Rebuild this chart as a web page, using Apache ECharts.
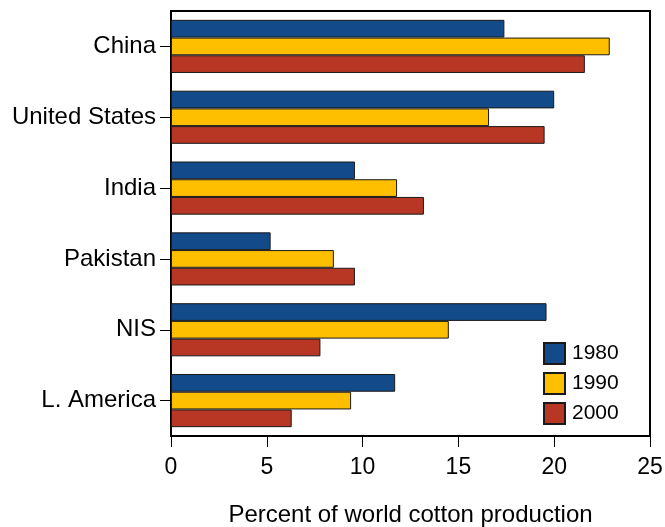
<!DOCTYPE html>
<html>
<head>
<meta charset="utf-8">
<script src="https://cdn.jsdelivr.net/npm/echarts@6/dist/echarts.min.js"></script>
<style>
  html, body { margin: 0; padding: 0; background: #fff; }
  #chart { width: 665px; height: 527px; }
</style>
</head>
<body>
<div id="chart"></div>
<script>
var regions = ['China', 'United States', 'India', 'Pakistan', 'NIS', 'L. America'];
var years = ['1980', '1990', '2000'];
var v1980 = [17.4, 20.0, 9.6, 5.2, 19.6, 11.7];
var v1990 = [22.9, 16.6, 11.8, 8.5, 14.5, 9.4];
var v2000 = [21.6, 19.5, 13.2, 9.6, 7.8, 6.3];
var xTicks = [0, 5, 10, 15, 20, 25];
var colors = ['#134b8a', '#fdbf00', '#b73724'];

var myChart = echarts.init(document.getElementById('chart'));
var font = 'Liberation Sans, Arial, sans-serif';

function bar(name, data, i) {
    return {
        name: name,
        type: 'bar',
        data: data,
        barGap: '0%',
        barCategoryGap: '25%',
        itemStyle: { color: colors[i], borderColor: '#1a1a1a', borderWidth: 1 }
    };
}

option = {
    animation: false,
    textStyle: { fontFamily: font },
    grid: {
        left: 171, right: 15, top: 11, bottom: 91,
        containLabel: false,
        outerBoundsMode: 'none',
        show: true, borderColor: '#000', borderWidth: 2, backgroundColor: 'transparent'
    },
    legend: {
        orient: 'vertical',
        left: 543, top: 342,
        padding: 0,
        itemWidth: 21, itemHeight: 21, itemGap: 7,
        icon: 'rect',
        textStyle: { fontSize: 21, color: '#000', fontFamily: font, padding: [0, 0, 0, 2] },
        data: years
    },
    xAxis: {
        type: 'value',
        min: 0, max: 25, interval: 5,
        name: 'Percent of world cotton production',
        nameLocation: 'middle',
        nameGap: 67,
        nameTextStyle: { fontSize: 24, color: '#000', fontFamily: font },
        axisLine: { show: true, lineStyle: { color: '#000', width: 2 } },
        axisTick: { show: true, length: 11, lineStyle: { color: '#000', width: 1 } },
        axisLabel: {
            fontSize: 23, color: '#000', margin: 20,
            formatter: function (v) { return xTicks.indexOf(v) >= 0 ? String(v) : ''; }
        },
        splitLine: { show: false }
    },
    yAxis: {
        type: 'category',
        data: regions,
        inverse: true,
        axisLine: { show: true, lineStyle: { color: '#000', width: 2 } },
        axisTick: { show: true, alignWithLabel: true, length: 11, lineStyle: { color: '#000', width: 1 } },
        axisLabel: { fontSize: 24, color: '#000', margin: 15 },
        splitLine: { show: false }
    },
    series: [
        bar('1980', v1980, 0),
        bar('1990', v1990, 1),
        bar('2000', v2000, 2)
    ]
};

myChart.setOption(option);
</script>
</body>
</html>
